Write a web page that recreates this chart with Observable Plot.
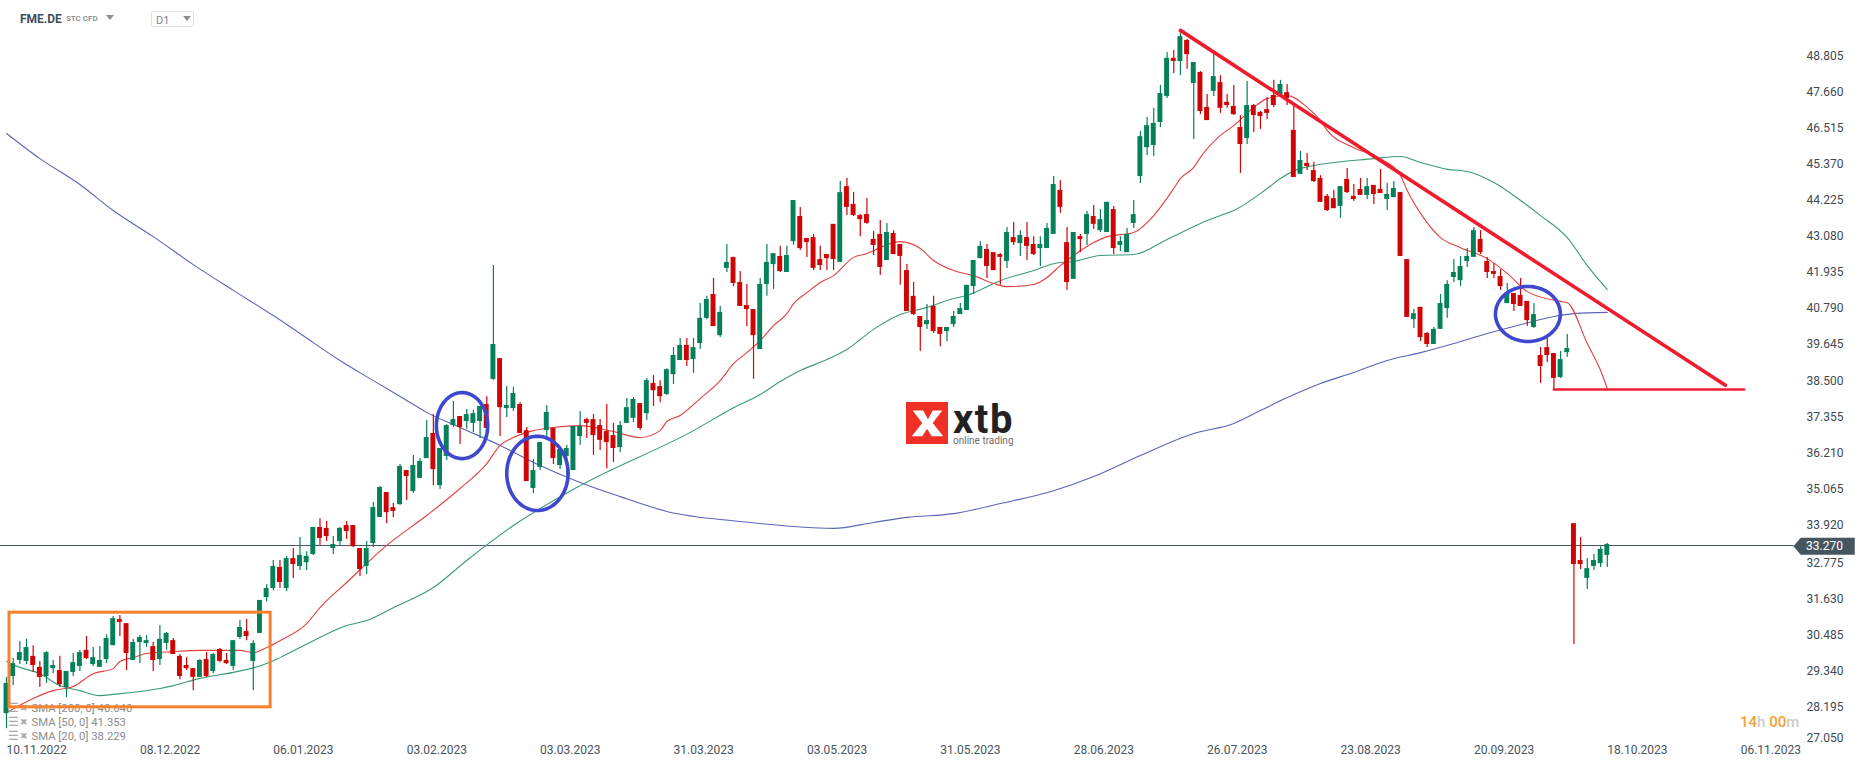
<!DOCTYPE html>
<html>
<head>
<meta charset="utf-8">
<script src="https://cdn.jsdelivr.net/npm/d3@7"></script>
<script src="https://cdn.jsdelivr.net/npm/@observablehq/plot@0.6"></script>
<style>
html,body{margin:0;padding:0;background:#fff;font-family:Roboto,sans-serif;width:1866px;height:767px;overflow:hidden;position:relative}
#chart svg{display:block;max-width:none}
.ab{position:absolute;white-space:nowrap;line-height:1}
</style>
</head>
<body>
<div id="chart"></div>
<div class="ab" style="left:20px;top:13px;font-size:12px;font-weight:700;color:#3f4e5a">FME.DE</div>
<div class="ab" style="left:66px;top:15px;font-size:8px;color:#7f868b;font-weight:500">STC CFD</div>
<div class="ab" style="left:106px;top:15px;width:0;height:0;border-left:4px solid transparent;border-right:4px solid transparent;border-top:5px solid #8a8f93"></div>
<div class="ab" style="left:151px;top:11px;width:41px;height:14px;border:1px solid #e0e0e0;border-radius:2px"></div>
<div class="ab" style="left:156px;top:15px;font-size:11px;color:#7f868b">D1</div>
<div class="ab" style="left:183px;top:16px;width:0;height:0;border-left:4px solid transparent;border-right:4px solid transparent;border-top:5px solid #8a8f93"></div>
<div class="ab" style="left:1740px;top:715px;font-size:15px;font-weight:500;color:#ccc"><span style="color:#f7a030">14</span>h <span style="color:#f7a030">00</span>m</div>
<svg class="ab" style="left:906px;top:402px" width="42" height="42" viewBox="0 0 44 44"><rect width="44" height="44" fill="#ee3124"/><path d="M7 9h11l5 9 5-9h10L28 22l11 14H27l-5-8-5 8H6l11-14z" fill="#fff"/></svg>
<div class="ab" style="left:953px;top:405px;font-size:40px;line-height:.75;font-weight:700;color:#222;letter-spacing:1.5px">xtb</div>
<div class="ab" style="left:953px;top:436px;font-size:10px;color:#6d6d6d">online trading</div>
<script>
const directions = "GGGGRRGGRG"+"GGRGGGGRRG"+"GGRGGRRRRG"+"RGRRGGRGGG"+"GRGRGGGRRG"+"GRRRGGGRRG"+"RGGGRGGGRG"+"GGRGRGGRRG"+"GGRGGGGRRR"+"RRGGGRGRRG"+"GGRGGGRGGR"+"RRRGGGRGGR"+"RRRRRGRRRR"+"RRGRRRRRGR"+"RGGGGGGRRR"+"GRGRRGGGRR"+"GRGRGGRGGG"+"GGGGGRGRGR"+"RGRRRRGRRR"+"RGRRGRRRRR"+"GRRRGRRGGR"+"RGRRGGGGGG"+"GRRRRGRRRG"+"RRRGGRRGGGG";
const highs = [29.11,29.71,30.25,30.32,30.12,29.62,29.93,29.65,29.78,29.30,
29.87,29.97,30.41,30.06,30.09,30.47,31.05,31.08,30.82,30.32,
30.44,30.44,30.22,30.76,30.54,30.35,29.84,29.74,29.39,29.68,
29.90,29.87,30.03,29.87,30.28,30.92,30.95,30.28,31.56,32.06,
32.83,32.83,32.96,33.21,33.56,33.11,33.88,34.16,34.07,33.59,
33.88,34.07,33.94,33.21,33.43,34.67,35.18,34.99,34.64,35.88,
35.69,36.17,36.07,37.28,37.47,36.39,37.15,37.89,37.41,37.63,
37.60,37.73,38.04,42.21,39.25,38.36,38.33,37.85,37.06,36.04,
36.58,37.76,37.03,36.42,36.49,37.09,37.57,37.35,37.47,37.31,
37.79,37.19,37.25,37.98,38.01,37.82,38.62,38.71,38.55,38.93,
39.60,39.89,39.89,39.89,41.00,41.23,41.80,40.91,42.88,42.47,
42.02,41.61,40.81,41.80,42.88,42.59,42.82,42.82,44.28,44.06,
43.07,43.20,42.82,42.56,43.52,44.88,44.98,44.53,43.83,44.34,
43.29,43.64,43.55,43.32,42.88,42.24,41.67,40.59,40.97,41.23,
40.24,40.24,40.75,41.00,41.58,42.37,42.97,42.88,42.62,42.59,
43.42,43.58,43.32,43.58,43.13,43.13,43.55,45.04,44.91,43.42,
43.26,43.20,43.93,44.12,43.99,44.22,44.09,43.13,43.39,44.28,
46.47,46.92,47.21,47.94,48.99,49.05,49.62,49.40,48.67,48.38,
47.65,48.95,48.25,47.65,47.94,46.98,48.06,47.33,47.11,47.55,
48.10,48.10,47.97,47.30,45.84,45.77,45.49,45.07,44.47,44.60,
44.72,45.30,44.79,44.98,44.98,44.76,45.27,44.82,44.88,44.53,
42.40,40.81,40.88,40.08,40.24,41.29,41.73,42.40,42.50,42.75,
43.42,43.32,42.47,42.27,42.08,41.64,41.32,41.80,41.07,41.00,
39.60,39.95,39.41,39.48,40.02,34.00,33.56,32.89,33.02,33.27,33.37];
const bodyTops = [28.92,29.55,29.90,30.06,29.78,29.43,29.90,29.49,29.33,29.30,
29.58,29.90,29.97,29.74,29.65,30.35,30.98,30.95,30.82,30.22,
30.38,30.28,30.09,30.32,30.51,30.28,29.78,29.49,29.39,29.65,
29.68,29.84,30.00,29.65,30.28,30.70,30.57,30.19,31.56,31.94,
32.64,32.61,32.89,32.89,32.99,32.96,33.88,33.88,33.85,33.34,
33.85,33.94,33.94,33.21,33.21,34.51,35.15,34.99,34.51,35.82,
35.69,35.85,35.98,36.74,36.87,36.39,37.12,37.31,37.41,37.47,
37.50,37.73,37.79,39.70,39.25,37.76,38.14,37.79,36.96,35.69,
36.58,37.54,37.03,36.36,36.39,37.09,37.09,37.31,37.31,37.12,
36.93,36.80,37.12,37.69,37.95,37.82,38.55,38.46,38.36,38.90,
39.35,39.67,39.67,39.60,40.53,41.13,41.29,40.72,42.31,42.47,
41.67,40.94,40.81,41.61,42.31,42.59,42.50,42.53,44.28,43.77,
43.07,43.10,42.40,42.56,43.52,44.53,44.72,44.15,43.80,43.83,
43.04,43.20,43.26,43.23,42.88,42.05,41.23,40.59,40.46,40.91,
40.24,40.24,40.59,40.84,41.58,42.37,42.82,42.72,42.62,42.56,
43.26,43.10,43.17,43.10,42.88,42.88,43.39,44.79,44.60,42.94,
43.26,43.13,43.83,43.77,43.67,44.22,43.99,42.97,43.20,43.83,
46.31,46.66,46.73,47.68,48.80,48.80,49.49,49.37,48.67,48.35,
47.24,48.22,48.03,47.40,47.27,46.60,47.30,47.30,47.08,47.17,
47.62,47.97,47.71,46.51,45.55,45.46,45.23,44.98,44.41,44.34,
44.72,44.95,44.41,44.63,44.72,44.76,44.63,44.47,44.66,44.53,
42.40,40.68,40.88,40.05,40.18,41.00,41.61,41.99,42.18,42.50,
43.32,43.04,42.34,42.02,41.86,41.32,41.32,41.26,41.07,40.65,
39.35,39.60,39.41,39.22,39.57,34.00,32.83,32.57,32.83,33.18,33.34];
const bodyBottoms = [27.96,29.14,29.65,29.62,29.49,29.11,29.14,29.39,28.88,28.79,
29.27,29.46,29.71,29.52,29.43,29.68,30.12,30.86,29.87,29.65,
30.22,30.19,29.65,29.68,30.19,29.84,29.14,29.39,29.11,29.11,
29.14,29.30,29.62,29.55,29.46,30.38,30.41,29.62,30.51,31.65,
31.94,32.13,31.94,32.70,32.64,32.76,33.02,33.53,33.59,33.21,
33.43,33.75,33.27,32.54,32.64,33.37,34.20,34.35,34.39,34.61,
35.50,35.02,35.44,36.07,35.72,35.21,36.14,37.12,37.06,37.25,
37.19,37.25,37.03,38.59,37.69,37.66,37.66,36.87,35.34,35.12,
35.79,36.96,36.07,35.85,36.14,35.69,36.77,37.19,36.80,36.65,
36.58,36.39,36.42,37.19,37.35,37.03,37.50,38.23,38.04,38.11,
38.74,39.19,39.19,39.22,39.73,40.53,40.27,39.98,42.12,41.64,
40.91,40.81,39.98,39.54,41.61,42.24,42.02,41.99,42.97,42.75,
42.94,42.12,42.21,42.43,42.40,42.31,44.06,43.80,43.67,43.55,
42.85,42.15,42.37,42.56,42.50,40.75,40.65,40.24,40.33,40.11,
40.02,40.11,40.33,40.65,40.78,41.54,42.43,42.18,42.05,42.47,
42.34,42.94,42.91,42.82,42.56,42.75,42.75,43.20,44.06,41.67,
41.77,43.04,43.20,43.52,43.32,43.26,42.75,42.85,42.62,43.55,
45.04,45.96,46.03,46.76,47.59,48.70,48.70,48.92,48.00,47.11,
46.82,47.75,47.21,47.30,47.01,46.06,46.25,46.98,46.95,47.05,
47.30,47.62,47.52,45.01,45.11,45.36,44.88,44.22,43.96,44.02,
44.09,44.53,44.31,44.44,44.44,44.47,44.50,44.31,44.37,42.50,
40.56,40.49,39.92,39.70,39.70,40.18,40.84,41.83,41.73,42.34,
42.47,42.62,41.99,41.93,41.54,41.00,40.97,40.91,40.46,40.24,
39.00,39.35,38.62,38.65,39.44,32.70,32.70,32.26,32.64,32.73,32.99];
const lows = [27.48,28.85,29.52,29.52,29.27,28.79,28.92,29.23,28.79,28.47,
29.14,29.30,29.68,29.46,29.43,29.55,30.12,30.41,29.33,29.65,
29.55,30.06,29.30,29.49,29.97,29.84,29.04,29.33,28.69,29.11,
29.11,29.23,29.58,29.52,29.33,30.32,30.28,28.69,30.51,31.52,
31.87,31.94,31.84,32.26,32.51,32.51,32.99,33.31,33.43,33.02,
33.31,33.50,33.24,32.32,32.38,33.24,34.20,34.00,34.20,34.58,
34.74,34.96,35.44,36.07,35.21,35.09,36.01,37.06,36.52,37.00,
36.90,36.71,37.03,38.55,36.77,37.38,37.57,36.87,35.34,34.96,
35.69,36.68,35.88,35.72,35.53,35.69,36.49,36.71,36.17,36.33,
35.75,35.95,36.26,37.19,37.22,36.96,37.28,37.73,37.85,38.08,
38.43,39.19,39.00,38.78,39.54,40.49,40.27,39.92,41.99,41.54,
40.91,40.27,38.59,39.54,41.23,41.45,41.99,41.99,42.85,42.69,
42.47,42.05,42.05,42.05,42.05,42.31,43.80,43.77,43.13,43.52,
42.53,41.89,42.37,42.56,41.58,40.75,40.62,39.48,40.18,40.05,
39.63,39.79,40.24,40.65,40.78,41.29,42.43,41.80,42.05,41.58,
42.12,42.85,42.50,42.37,42.53,42.18,42.75,43.20,43.87,41.42,
41.77,42.62,42.85,43.36,43.26,43.26,42.56,42.66,42.62,43.39,
44.82,45.71,45.68,46.60,47.52,48.32,48.25,48.45,46.22,47.01,
46.82,47.59,47.05,47.21,46.98,45.14,46.06,46.44,46.54,46.85,
47.24,47.62,47.30,45.01,45.11,45.23,44.85,44.22,43.93,44.02,
43.71,44.50,44.25,44.44,44.31,44.15,44.50,43.96,44.37,42.50,
40.56,40.21,39.79,39.60,39.70,40.18,40.53,41.67,41.54,42.15,
42.47,42.56,41.80,41.80,41.42,41.00,40.75,40.91,40.27,40.21,
38.46,39.13,38.27,38.62,39.29,30.16,32.54,31.91,32.51,32.61,32.61];

const sma20Bars = [0,4,7,10,13,16,17,19,21,25,29,35,37,39,41,45,47,51,57,63,68,72,74,76,79,82,86,91,95,98,99,101,104,107,109,111,113,115,117,118,120,122,124,127,129,131,133,134,137,139,142,145,148,150,154,156,158,160,163,165,169,172,175,176,178,179,182,184,187,189,192,195,197,198,202,206,209,210,212,215,218,222,225,228,233,234,237,239,240];
const sma20Values = [27.99,28.44,28.69,28.82,29.23,29.39,29.62,29.74,29.87,29.93,29.97,29.97,29.90,30.06,30.28,30.82,31.33,32.13,33.31,34.26,35.12,35.91,36.49,36.74,36.96,37.06,37.12,36.93,36.74,36.96,37.25,37.44,37.98,38.55,39.09,39.44,39.82,40.30,40.68,41.00,41.35,41.67,41.89,42.47,42.59,42.78,42.94,42.97,42.75,42.37,42.05,41.89,41.64,41.54,41.61,41.83,42.21,42.53,42.94,43.13,43.26,43.80,44.66,44.98,45.33,45.65,46.35,46.66,47.24,47.52,47.62,47.24,46.82,46.51,45.96,45.61,45.07,44.60,43.87,43.10,42.78,42.43,41.96,41.38,41.07,41.03,39.73,38.87,38.30];
const sma50Bars = [0,2,5,8,11,14,16,23,25,29,34,39,41,46,51,54,58,64,69,76,86,103,109,113,116,119,123,126,130,134,138,142,144,148,149,154,157,160,164,169,174,179,182,184,189,191,194,205,209,212,216,219,223,227,230,234,237,240];
const sma50Values = [29.62,29.43,29.23,28.85,28.69,28.53,28.57,28.76,28.85,29.08,29.27,29.55,29.74,30.28,30.76,30.92,31.33,31.97,32.83,33.94,35.21,36.96,37.69,38.11,38.52,38.87,39.22,39.54,40.18,40.65,40.88,41.16,41.26,41.64,41.73,42.05,42.27,42.34,42.53,42.56,43.04,43.55,43.80,43.96,44.66,44.98,45.30,45.61,45.68,45.49,45.27,45.20,44.85,44.28,43.80,43.10,42.21,41.45];
const sma200Bars = [0,5,11,16,22,28,34,40,44,50,55,60,63,68,74,80,86,92,99,110,118,124,130,135,142,149,157,163,170,178,184,188,192,197,202,207,212,217,222,227,232,235,240];
const sma200Values = [46.41,45.61,44.79,43.96,43.13,42.24,41.42,40.62,40.05,39.19,38.55,37.92,37.54,37.06,36.49,35.85,35.31,34.86,34.39,34.07,33.91,33.85,34.04,34.20,34.32,34.64,35.05,35.50,36.17,36.87,37.19,37.60,38.01,38.46,38.81,39.19,39.44,39.73,40.05,40.33,40.59,40.68,40.72];

const upperTicks = [48.805,47.66,46.515,45.37,44.225,43.08,41.935,40.79,39.645];
const middleTicks = [38.5,37.355,36.21,35.065,33.92];
const lowerTicks = [32.775,31.63,30.485,29.34,28.195];
const lowestTick = [27.05];
const dateBars = [0,20,40,60,80,100,120,140,160,180,200,220,240,260];
const dateLabels = ["10.11.2022","08.12.2022","06.01.2023","03.02.2023","03.03.2023","31.03.2023","03.05.2023","31.05.2023","28.06.2023","26.07.2023","23.08.2023","20.09.2023","18.10.2023","06.11.2023"];
const lastPrice = 33.27;
const legendLabels = ["SMA [200, 0] 40.640","SMA [50, 0] 41.353","SMA [20, 0] 38.229"];
const legendPrices = [28.13,27.68,27.24];
const boxBars = [0.45,39.6];
const boxPrices = [28.16,31.17];
const trendBars = [176,257.7];
const trendPrices = [49.69,38.4];
const supportBars = [232,260.5];
const supportPrices = [38.27,38.27];
const ringBars = [68.3,79.6,228.1];
const ringPrices = [37.12,35.6,40.67];
const ringBarRadii = [3.85,4.6,4.87];
const ringPriceRadii = [1.05,1.18,0.875];

const bars = d3.range(highs.length);
const GREEN = "#04805a", RED = "#cf0404", AXIS = "#3d4a52";
const ringMarks = ringBars.map((b, k) => {
  const steps = d3.range(73).map(n => n / 72 * 2 * Math.PI);
  return Plot.line(steps, {
    x: t => b + ringBarRadii[k] * Math.cos(t),
    y: t => ringPrices[k] + ringPriceRadii[k] * Math.sin(t),
    stroke: "#3f48cc", strokeWidth: 3.6
  });
});
const candle = (code, color) => [
  Plot.ruleX(bars, {filter: i => directions[i] === code, x: i => i, y1: i => lows[i], y2: i => highs[i], stroke: color, strokeWidth: 1.2}),
  Plot.rect(bars, {filter: i => directions[i] === code, x1: i => i - 0.37, x2: i => i + 0.37, y1: i => bodyBottoms[i], y2: i => bodyTops[i], fill: color})
];
const priceAxis = (values, dy) => Plot.axisY(values, {anchor: "right", tickSize: 0, tickPadding: 0, label: null, textAnchor: "start", tickFormat: d3.format(".3f"), fontSize: 12, fill: AXIS, dy, ticks: values});

const chart = Plot.plot({
  width: 1866, height: 767,
  marginTop: 0, marginLeft: 0, marginRight: 60, marginBottom: 25,
  style: {background: "#fff", fontFamily: "Roboto, sans-serif", overflow: "visible"},
  x: {type: "linear", domain: [0, 240], range: [6, 1606.8]},
  y: {type: "linear", domain: [27.05, 48.805], range: [741.7, 57.7]},
  marks: [
    Plot.ruleY([lastPrice], {x1: -1, x2: 268, stroke: "#45535e", strokeWidth: 1, dy: -1.1}),
    Plot.line(sma200Values, {x: sma200Bars, y: sma200Values, stroke: "#5c64b8", strokeWidth: 1.1, curve: "monotone-x"}),
    Plot.line(sma50Values, {x: sma50Bars, y: sma50Values, stroke: "#3a9a76", strokeWidth: 1.1, curve: "monotone-x"}),
    Plot.line(sma20Values, {x: sma20Bars, y: sma20Values, stroke: "#e2403f", strokeWidth: 1.1, curve: "monotone-x"}),
    ...candle("G", GREEN),
    ...candle("R", RED),
    Plot.text(legendLabels, {x: 3.75, y: legendPrices, text: d => d, textAnchor: "start", fill: "#8c8c8c", fontSize: 11.3}),
    Plot.text(legendPrices, {x: 0.15, y: legendPrices, text: () => "☰", textAnchor: "start", fill: "#aaaaaa", fontSize: 12}),
    Plot.text(legendPrices, {x: 1.95, y: legendPrices, text: () => "✖", textAnchor: "start", fill: "#aaaaaa", fontSize: 9}),
    Plot.rect([0], {x1: boxBars[0], x2: boxBars[1], y1: boxPrices[0], y2: boxPrices[1], stroke: "#f9812a", strokeWidth: 3, fill: "none"}),
    Plot.line(trendPrices, {x: trendBars, y: trendPrices, stroke: "#ee1c2e", strokeWidth: 3.6}),
    Plot.line(supportPrices, {x: supportBars, y: supportPrices, stroke: "#ee1c2e", strokeWidth: 2.6}),
    ...ringMarks,
    Plot.line([0, 1, 2, 3, 4], {
      x: [267.9, 269, 277.1, 277.1, 269],
      y: [33.28, 33.55, 33.55, 33.01, 33.01],
      fill: "#455660", stroke: "none"
    }),
    priceAxis(upperTicks, -2),
    priceAxis(middleTicks, -1),
    priceAxis(lowerTicks, 0.5),
    priceAxis(lowestTick, -4),
    Plot.text([lastPrice], {x: 269.8, y: d => d, text: d => d3.format(".3f")(d), textAnchor: "start", fill: "#fff", fontSize: 12}),
    Plot.axisX(dateBars, {anchor: "bottom", tickSize: 0, tickPadding: 3, label: null, textAnchor: "start", tickFormat: d => dateLabels[dateBars.indexOf(d)], fontSize: 12, fill: "#4a545b", ticks: dateBars})
  ]
});
document.getElementById("chart").append(chart);
</script>
</body>
</html>
